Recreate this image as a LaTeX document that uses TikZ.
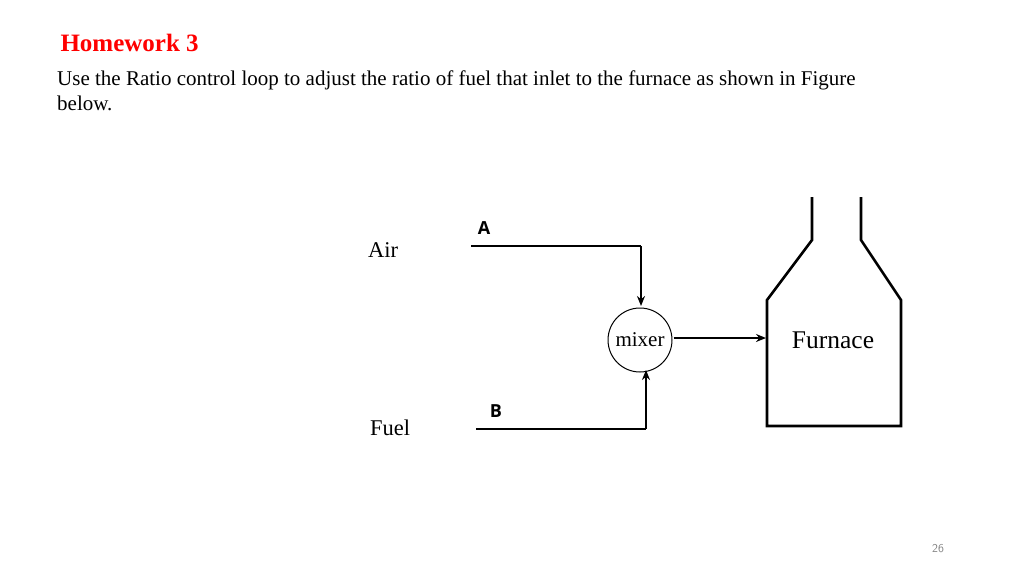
\documentclass[tikz,border=0pt]{standalone}
\usepackage{fontspec}
\usetikzlibrary{arrows.meta}
\setmainfont{Liberation Serif}
\newfontfamily\sanslab{Open Sans}
\begin{document}
\begin{tikzpicture}[x=1pt,y=-1pt,
  ln/.style={line width=2.6pt},
  ar/.style={line width=2pt,-{Stealth[length=10pt,width=8pt]}},
  lab/.style={font=\fontsize{22.5}{26}\selectfont},
  ab/.style={font=\sanslab\bfseries\fontsize{18}{20}\selectfont}]
\useasboundingbox (0,0) rectangle (1024,575);
\node[anchor=west,text=red,font=\bfseries\fontsize{25}{28}\selectfont] (title) at (57,43) {Homework 3};
\node[anchor=north west,align=left,inner sep=0,font=\fontsize{21}{25}\selectfont] (body) at (57,71)
 {Use the Ratio control loop to adjust the ratio of fuel that inlet to the furnace as shown in Figure\\below.};
\node[lab] (air) at (383,250) {Air};
\node[lab] (fuel) at (390,428) {Fuel};
\node[ab] (A) at (484,228) {A};
\node[ab] (B) at (496,411) {B};
\node[circle,draw,line width=1pt,minimum size=64pt,inner sep=0,font=\fontsize{21}{22}\selectfont] (mix) at (640,340) {mixer};
\coordinate (a0) at (471,246); \coordinate (a1) at (641,246);
\coordinate (b0) at (476,429); \coordinate (b1) at (646,429);
\draw[ln] (a0) -- (a1);
\draw[ar] (a1) -- (641,306);
\draw[ln] (b0) -- (b1);
\draw[ar] (b1) -- (646,370);
\draw[ar] (mix.east) ++(1,-2) -- (766,338);
\draw[ln] (812,197) -- (812,240) -- (767,300) -- (767,426) -- (901,426) -- (901,300) -- (861,240) -- (861,197);
\node[font=\fontsize{25.5}{28}\selectfont] (furn) at (833,340) {Furnace};
\node[text=gray,font=\sffamily\fontsize{12}{13}\selectfont] (pg) at (938,549) {26};
\end{tikzpicture}
\end{document}
